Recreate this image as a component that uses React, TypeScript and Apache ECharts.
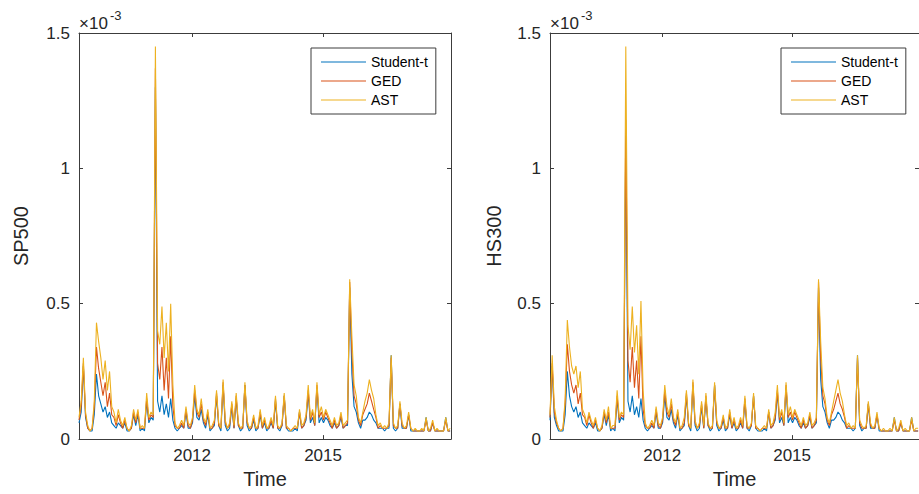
import React, { useEffect, useRef } from "react";
import * as echarts from "echarts";

// Time grid (decimal years) shared by all series
const START_YEAR = 2009.41;
const STEP_YEARS = 0.05;
const X_MIN = 2009.41;
const X_MAX = 2017.93;
const xTickYears = [2012, 2015];
const Y_MIN = 0;
const Y_MAX = 1.5;
const Y_STEP = 0.5;
const seriesNames = ["Student-t", "GED", "AST"];
const panelNames = ["SP500", "HS300"];

// Conditional variance, in units of 1e-5
const spStudentT = [6,10,27,8,4,3,3,9,24,16,13,
  10,12,8,10,6,5,4,6,5,4,
  6,3,3,4,9,5,9,3,4,3,
  14,6,8,7,130,14,10,16,9,13,
  8,15,7,4,3,4,5,4,10,4,
  4,6,16,8,7,11,6,4,9,3,
  4,5,16,5,3,20,5,3,4,12,
  4,15,5,3,4,20,5,3,4,7,
  3,4,9,4,6,3,4,6,4,14,
  4,3,5,16,4,3,3,3,4,3,
  10,4,5,7,17,6,8,5,19,6,
  8,6,8,7,5,4,6,4,5,8,
  4,5,5,56,24,12,10,6,4,7,
  7,8,10,9,7,6,4,4,4,3,
  4,4,31,4,3,4,13,4,4,4,
  9,3,3,3,3,3,3,3,8,3,
  3,6,3,3,3,3,3,8,3,3];
const spGED = [7,12,28,9,4,3,4,12,34,26,21,
  16,21,12,17,9,8,5,9,6,4,
  7,4,3,4,10,6,10,4,4,4,
  15,7,9,8,137,28,22,34,18,30,
  15,38,12,5,4,4,6,4,11,5,
  4,7,18,10,8,13,7,5,10,4,
  4,6,17,5,4,21,6,4,5,13,
  4,16,5,4,4,20,6,4,4,8,
  4,4,10,4,7,4,4,7,4,15,
  4,4,5,16,4,4,3,4,4,4,
  10,4,5,8,18,7,10,5,20,8,
  10,7,10,8,6,4,7,4,5,9,
  4,5,6,58,32,16,13,7,5,9,
  11,13,17,14,11,8,4,5,4,4,
  4,5,30,5,4,4,13,5,4,4,
  9,4,3,3,3,3,3,3,7,3,
  3,6,3,3,3,3,3,7,3,3];
const spAST = [8,14,30,10,5,3,4,14,43,36,30,
  22,29,18,25,12,10,6,11,7,5,
  8,4,3,5,11,7,11,4,5,4,
  17,8,10,9,145,40,35,49,30,43,
  25,50,20,6,4,5,7,5,12,6,
  5,8,20,11,9,15,8,6,11,4,
  5,7,18,6,4,22,7,4,6,14,
  5,17,6,4,5,21,7,4,5,9,
  4,5,11,5,8,4,5,8,5,16,
  5,4,6,17,5,4,3,4,5,4,
  11,5,6,9,20,8,11,6,21,9,
  12,8,11,9,7,5,8,5,6,10,
  5,6,7,59,38,20,16,8,6,10,
  14,17,22,18,15,9,5,6,4,5,
  4,6,31,6,4,5,14,6,4,5,
  10,4,3,4,3,3,4,3,8,3,
  4,7,3,4,3,3,3,8,3,4];

const hsStudentT = [7,27,8,5,3,3,3,9,25,16,12,
  10,12,8,10,6,5,4,6,5,4,
  6,3,3,4,9,5,9,3,4,3,
  15,6,8,7,112,14,10,16,9,12,
  8,15,7,4,3,4,5,4,10,4,
  4,6,16,8,7,11,6,4,9,3,
  4,5,16,5,3,20,5,3,4,12,
  4,15,5,3,4,20,5,3,4,7,
  3,4,9,4,6,3,4,6,4,14,
  4,3,5,16,4,3,3,3,4,3,
  10,4,5,7,17,6,8,5,19,6,
  8,6,8,7,5,4,6,4,5,8,
  4,5,6,56,22,12,10,6,4,7,
  7,8,10,9,7,6,4,4,4,3,
  4,31,5,3,4,4,13,4,4,4,
  9,3,3,3,3,3,3,3,8,3,
  3,6,3,3,3,3,8,3,3,3];
const hsGED = [8,28,10,6,4,3,4,13,35,25,20,
  17,20,13,17,9,8,5,9,6,4,
  7,4,3,4,10,6,10,4,4,4,
  16,7,9,8,118,29,21,34,19,29,
  15,38,11,5,4,4,6,4,11,5,
  4,7,18,10,8,13,7,5,10,4,
  4,6,17,5,4,21,6,4,5,13,
  4,16,5,4,4,20,6,4,4,8,
  4,4,10,4,7,4,4,7,4,15,
  4,4,5,16,4,4,3,4,4,4,
  10,4,5,8,18,7,10,5,20,8,
  10,7,10,8,6,4,7,4,5,9,
  4,5,7,58,30,16,13,7,5,9,
  11,14,17,13,11,8,4,5,4,4,
  4,30,6,4,4,4,13,5,4,4,
  9,4,3,3,3,3,3,3,7,3,
  3,6,3,3,3,3,7,3,3,3];
const hsAST = [9,31,12,7,4,3,4,15,44,34,27,
  24,27,19,25,11,9,6,10,7,5,
  8,4,3,5,11,7,12,4,5,5,
  18,8,10,9,145,42,33,49,32,42,
  24,51,18,6,4,5,7,5,12,6,
  5,8,20,12,9,15,8,6,11,4,
  5,8,18,6,4,22,7,4,6,14,
  5,17,6,4,5,21,7,4,5,9,
  4,5,11,5,8,4,5,8,5,16,
  5,4,6,17,5,4,3,4,5,4,
  11,5,6,10,20,8,11,6,21,9,
  12,8,11,9,7,5,8,5,6,10,
  5,6,8,59,36,19,15,8,6,10,
  14,18,22,17,14,9,5,6,4,5,
  4,31,7,5,4,5,14,6,4,5,
  10,4,3,4,3,3,4,3,8,3,
  4,7,3,4,3,3,8,3,4,4];

const colors = ["#0072BD", "#D95319", "#EDB120"];
const FONT = "'Liberation Sans', Arial, Helvetica, sans-serif";
const AX = "#262626";
const LINE = "#3c3c3c";

const toPoints = (vals: number[]) =>
  vals.map((v, i) => [START_YEAR + i * STEP_YEARS, v / 100]);

export default function App() {
  const ref = useRef<HTMLDivElement>(null);
  useEffect(() => {
    if (!ref.current) return;
    const chart = echarts.init(ref.current, null, { renderer: "svg" });
    const panels = [
      { left: 79, data: [spStudentT, spGED, spAST], nameGap: 48, legendLeft: 311 },
      { left: 550, data: [hsStudentT, hsGED, hsAST], nameGap: 46, legendLeft: 781 },
    ];
    const grid: any[] = [];
    const xAxis: any[] = [];
    const yAxis: any[] = [];
    const series: any[] = [];
    const legend: any[] = [];
    const graphic: any[] = [];
    panels.forEach((p, k) => {
      grid.push({ left: p.left, top: 33, width: 372, height: 408, containLabel: false });
      const tickBase = {
        show: true,
        inside: true,
        length: 4,
        lineStyle: { color: LINE, width: 1 },
      };
      xAxis.push({
        type: "value",
        gridIndex: k,
        position: "bottom",
        min: X_MIN,
        max: X_MAX,
        name: "Time",
        nameLocation: "middle",
        nameGap: 29,
        nameTextStyle: { fontFamily: FONT, fontSize: 20, color: AX },
        axisLine: { show: true, onZero: false, lineStyle: { color: LINE, width: 1 } },
        axisTick: { ...tickBase, customValues: xTickYears },
        axisLabel: {
          customValues: xTickYears,
          formatter: (v: number) => String(Math.round(v)),
          fontFamily: FONT,
          fontSize: 17,
          color: AX,
          margin: 8,
        },
        splitLine: { show: false },
      });
      xAxis.push({
        type: "value",
        gridIndex: k,
        position: "top",
        min: X_MIN,
        max: X_MAX,
        axisLine: { show: true, onZero: false, lineStyle: { color: LINE, width: 1 } },
        axisTick: { ...tickBase, customValues: xTickYears },
        axisLabel: { show: false },
        splitLine: { show: false },
      });
      yAxis.push({
        type: "value",
        gridIndex: k,
        position: "left",
        min: Y_MIN,
        max: Y_MAX,
        interval: Y_STEP,
        name: panelNames[k],
        nameLocation: "middle",
        nameGap: p.nameGap,
        nameTextStyle: { fontFamily: FONT, fontSize: 20, color: AX },
        axisLine: { show: true, onZero: false, lineStyle: { color: LINE, width: 1 } },
        axisTick: tickBase,
        axisLabel: { fontFamily: FONT, fontSize: 17, color: AX, margin: 9 },
        splitLine: { show: false },
      });
      yAxis.push({
        type: "value",
        gridIndex: k,
        position: "right",
        min: Y_MIN,
        max: Y_MAX,
        interval: Y_STEP,
        axisLine: { show: true, onZero: false, lineStyle: { color: LINE, width: 1 } },
        axisTick: tickBase,
        axisLabel: { show: false },
        splitLine: { show: false },
      });
      p.data.forEach((vals, s) => {
        series.push({
          type: "line",
          name: seriesNames[s],
          xAxisIndex: k * 2,
          yAxisIndex: k * 2,
          data: toPoints(vals),
          symbol: "none",
          showSymbol: false,
          lineStyle: { color: colors[s], width: 1.1 },
          itemStyle: { color: colors[s] },
          z: 2 + s,
        });
      });
      legend.push({
        data: seriesNames.map((n, s) => ({
          name: n,
          icon: "path://M0,0H45V1.2H0Z",
          itemStyle: { color: colors[s] },
        })),
        orient: "vertical",
        left: p.legendLeft,
        top: 48,
        width: 125,
        padding: [7, 8, 7, 10],
        itemGap: 5,
        itemWidth: 45,
        itemHeight: 14,
        symbolKeepAspect: true,
        backgroundColor: "#ffffff",
        borderColor: LINE,
        borderWidth: 1,
        borderRadius: 0,
        textStyle: { fontFamily: FONT, fontSize: 14, color: "#000" },
        selectedMode: false,
      });
      graphic.push({
        type: "text",
        x: p.left,
        y: 23,
        style: {
          text: "×10",
          fontFamily: FONT,
          fontSize: 17,
          fill: AX,
          align: "left",
          verticalAlign: "middle",
        },
      });
      graphic.push({
        type: "text",
        x: p.left + 31,
        y: 15,
        style: {
          text: "-3",
          fontFamily: FONT,
          fontSize: 13,
          fill: AX,
          align: "left",
          verticalAlign: "middle",
        },
      });
    });
    chart.setOption({
      animation: false,
      backgroundColor: "#ffffff",
      grid,
      xAxis,
      yAxis,
      series,
      legend,
      graphic,
    });
    return () => chart.dispose();
  }, []);
  return (
    <div
      ref={ref}
      style={{ position: "fixed", left: 0, top: 0, width: 919, height: 494 }}
    />
  );
}
